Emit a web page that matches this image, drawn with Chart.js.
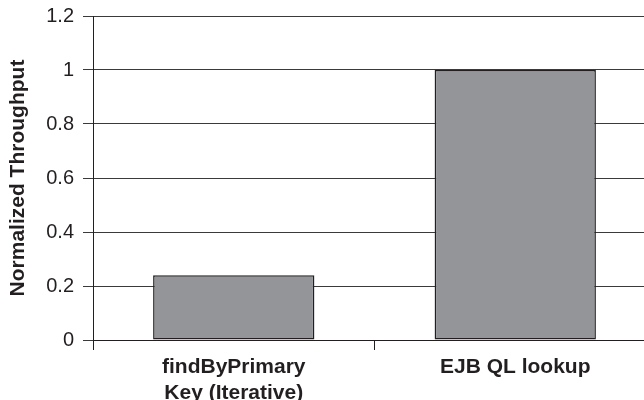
<!DOCTYPE html>
<html>
<head>
<meta charset="utf-8">
<script src="https://cdn.jsdelivr.net/npm/chart.js@4/dist/chart.umd.min.js"></script>
<style>
  html, body { margin: 0; padding: 0; background: #fff; overflow: hidden; }
  #wrap { width: 656px; height: 400px; position: relative; }
</style>
</head>
<body>
<div id="wrap"><canvas id="chart"></canvas></div>
<script>
const categories = [["findByPrimary", "Key (Iterative)"], "EJB QL lookup"];
const throughput = [0.24, 1.0];
const yTicks = [0, 0.2, 0.4, 0.6, 0.8, 1, 1.2];
const yTitle = "Normalized Throughput";

const ink = "#231f20";
const font = "'Liberation Sans', Arial, Helvetica, sans-serif";

new Chart(document.getElementById("chart").getContext("2d"), {
  type: "bar",
  data: {
    labels: categories,
    datasets: [
      {
        data: throughput,
        backgroundColor: "#939598",
        borderColor: ink,
        borderWidth: 1.5,
        borderSkipped: false,
        categoryPercentage: 1,
        barPercentage: 0.573,
      },
    ],
  },
  options: {
    responsive: true,
    maintainAspectRatio: false,
    animation: false,
    layout: { padding: { top: 16, left: 2, right: 0, bottom: 0 } },
    plugins: {
      legend: { display: false },
      tooltip: { enabled: false },
    },
    scales: {
      x: {
        border: { display: true, color: ink, width: 1 },
        grid: {
          display: true,
          offset: true,
          drawOnChartArea: false,
          drawTicks: true,
          tickLength: 10,
          color: ink,
        },
        ticks: {
          color: ink,
          padding: 5,
          maxRotation: 0,
          autoSkip: false,
          font: { family: font, size: 21, weight: "bold", lineHeight: 1.2 },
        },
        afterFit: (scale) => {
          scale.height = 60;
        },
      },
      y: {
        min: yTicks[0],
        max: yTicks[yTicks.length - 1],
        border: { display: true, color: ink, width: 1 },
        grid: {
          color: "#3a3a3a",
          lineWidth: 1,
          drawTicks: true,
          tickLength: 10,
        },
        afterBuildTicks: (scale) => {
          scale.ticks = yTicks.map((v) => ({ value: v }));
        },
        ticks: {
          color: ink,
          padding: 9,
          font: { family: font, size: 20 },
          callback: (value) => String(+value.toFixed(1)),
        },
        title: {
          display: true,
          text: yTitle,
          color: ink,
          padding: { top: 4, bottom: 4 },
          font: { family: font, size: 21, weight: "bold", lineHeight: 1.2 },
        },
        afterFit: (scale) => {
          scale.width = 91;
          // let the top gridline sit right at the layout padding
          scale.paddingTop = 0;
          scale.paddingBottom = 0;
        },
      },
    },
  },
});
</script>
</body>
</html>
